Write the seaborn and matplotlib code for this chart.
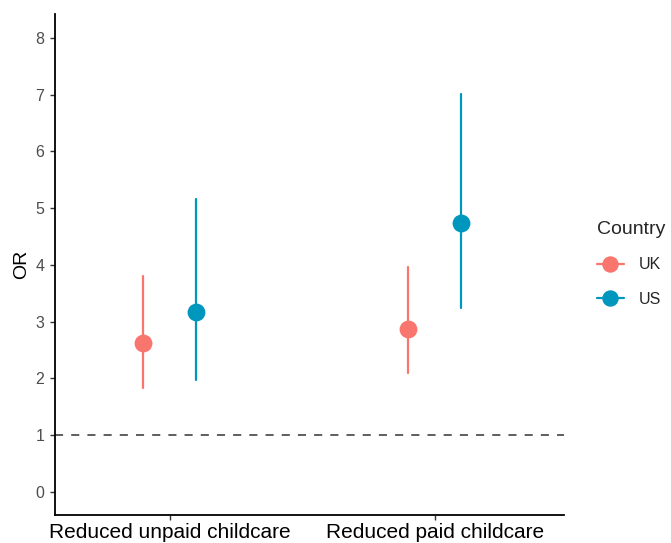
import matplotlib
matplotlib.use("Agg")
import matplotlib.pyplot as plt
import seaborn as sns
import pandas as pd
from matplotlib.lines import Line2D

categories = ["Reduced unpaid childcare", "Reduced paid childcare"]
countries = ["UK", "US"]
or_uk = [2.63, 2.88]
lo_uk = [1.83, 2.10]
hi_uk = [3.81, 3.96]
or_us = [3.17, 4.74]
lo_us = [1.97, 3.24]
hi_us = [5.16, 7.01]
colors = {"UK": "#F8766D", "US": "#0097BE"}

rows = []
for c, est, lo, hi in [("UK", or_uk, lo_uk, hi_uk), ("US", or_us, lo_us, hi_us)]:
    for i, cat in enumerate(categories):
        for v in (lo[i], est[i], hi[i]):
            rows.append({"Outcome": cat, "Country": c, "OR": v})
df = pd.DataFrame(rows)

sns.set_theme(style="ticks")
plt.rcParams["font.family"] = ["Liberation Sans", "DejaVu Sans"]

fig = plt.figure(figsize=(6.71, 5.43), dpi=100)
ax = fig.add_axes([0.082, 0.0516, 0.758, 0.9226])

sns.pointplot(data=df, x="Outcome", y="OR", hue="Country", order=categories,
              hue_order=countries, palette=colors, estimator="median",
              errorbar=("pi", 100), dodge=0.2, linestyle="none",
              markers="o", markersize=10.8, err_kws={"linewidth": 1.6},
              ax=ax, legend=False)

ax.axhline(1, color="#333333", linestyle=(0, (5.3, 5.3)), linewidth=1.1, zorder=0)

ax.set_ylim(-0.405, 8.42)
ax.set_xlim(-0.434, 1.487)
ax.set_yticks(range(0, 9))
ax.set_xlabel("")
ax.set_ylabel("OR", fontsize=14, color="black")
ax.tick_params(axis="y", labelsize=11.5, labelcolor="#4D4D4D", length=3.6, width=1,
               color="#333333", pad=4)
ax.tick_params(axis="x", labelsize=15, labelcolor="black", length=3.6, width=1,
               color="#333333", pad=2.5)
for s in ["top", "right"]:
    ax.spines[s].set_visible(False)
for s in ["left", "bottom"]:
    ax.spines[s].set_linewidth(1.3)
    ax.spines[s].set_color("black")

handles = [Line2D([0], [0], color=colors[c], marker="o", markersize=10.8, linewidth=1.6, label=c)
           for c in countries]
leg = fig.legend(handles=handles, title="Country", loc="upper left",
                 bbox_to_anchor=(0.880, 0.605), frameon=False, fontsize=11.5,
                 title_fontsize=14, handlelength=1.7, labelspacing=1.22,
                 handletextpad=0.94, borderaxespad=0)
leg._legend_box.align = "left"

fig.savefig("out.png", dpi=100)
